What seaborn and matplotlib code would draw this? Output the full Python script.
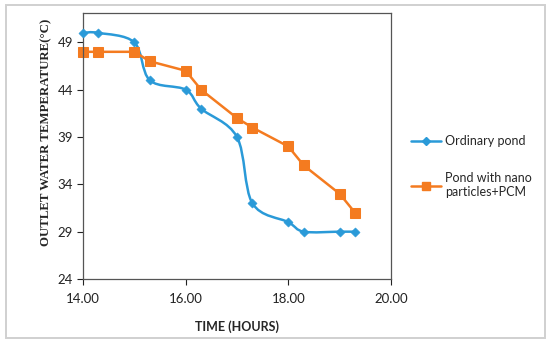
import matplotlib
matplotlib.use("Agg")
import matplotlib.pyplot as plt
import numpy as np
import pandas as pd
import seaborn as sns
from matplotlib.lines import Line2D
from matplotlib.patches import PathPatch, Rectangle
from matplotlib.path import Path

# ── Data ───────────────────────────────────────────────────────────────────
time_h = [14.0, 14.3, 15.0, 15.3, 16.0, 16.3, 17.0, 17.3, 18.0, 18.3, 19.0, 19.3]
ordinary_pond = [50, 50, 49, 45, 44, 42, 39, 32, 30, 29, 29, 29]
nano_pcm_pond = [48, 48, 48, 47, 46, 44, 41, 40, 38, 36, 33, 31]
series_names = ["Ordinary pond", "Pond with nano\nparticles+PCM"]
x_ticks = [14, 16, 18, 20]
y_ticks = [24, 29, 34, 39, 44, 49]

BLUE = "#2a9ad8"
ORANGE = "#f47b20"

sns.set_style("white")
plt.rcParams["font.family"] = ["Lato", "DejaVu Sans"]


def smooth_path(xs, ys):
    """Excel-style smoothed line: Catmull-Rom segments as cubic Beziers."""
    pts = np.column_stack([xs, ys]).astype(float)
    verts, codes = [pts[0]], [Path.MOVETO]
    for i in range(len(pts) - 1):
        p0 = pts[max(i - 1, 0)]
        p1, p2 = pts[i], pts[i + 1]
        p3 = pts[min(i + 2, len(pts) - 1)]
        verts += [p1 + (p2 - p0) / 6, p2 - (p3 - p1) / 6, p2]
        codes += [Path.CURVE4] * 3
    return Path(verts, codes)


df = pd.DataFrame({"time": time_h, "ordinary": ordinary_pond, "nano": nano_pcm_pond})

fig = plt.figure(figsize=(5.5, 3.43), dpi=100)
ax = fig.add_axes([83 / 550, 1 - 279 / 343, 308 / 550, 266 / 343])

# orange: straight segments
sns.lineplot(data=df, x="time", y="nano", ax=ax, color=ORANGE, linewidth=1.8,
             marker="s", markersize=7, markeredgecolor=ORANGE, clip_on=False)
# blue: smoothed curve + diamond markers
ax.add_patch(PathPatch(smooth_path(df["time"], df["ordinary"]), facecolor="none",
                       edgecolor=BLUE, linewidth=1.8, clip_on=False))
sns.scatterplot(data=df, x="time", y="ordinary", ax=ax, color=BLUE, marker="D",
                s=22, edgecolor=BLUE, zorder=3, clip_on=False)

ax.set_xlim(14, 20)
ax.set_ylim(24, 52.1)
ax.set_xticks(x_ticks)
ax.set_xticklabels([f"{t:.2f}" for t in x_ticks])
ax.set_yticks(y_ticks)
ax.tick_params(axis="both", labelsize=9.5, colors="#222222", direction="out",
               length=4, width=0.8, left=True, bottom=True, pad=3)
ax.tick_params(axis="x", pad=6)
for sp in ax.spines.values():
    sp.set_color("#555555")
    sp.set_linewidth(0.9)

ax.set_xlabel("TIME (HOURS)", fontsize=9, fontweight="bold")
ax.xaxis.set_label_coords(0.5, -0.155)
ax.set_ylabel("OUTLET WATER TEMPERATURE(\u00b0C)", fontsize=9.3, fontweight="bold",
              family=["Liberation Serif", "DejaVu Serif"])
ax.yaxis.set_label_coords(-0.1, 0.55)

handles = [
    Line2D([], [], color=BLUE, marker="D", markersize=4, linewidth=1.8),
    Line2D([], [], color=ORANGE, marker="s", markersize=6, linewidth=1.8),
]
fig.legend(handles, series_names, loc="upper left", bbox_to_anchor=(400 / 550, 1 - 124 / 343),
           frameon=False, fontsize=9, handlelength=2.4, handletextpad=0.3,
           labelspacing=2.0)

# outer chart-area border
fig.patches.append(Rectangle((6 / 550, 5 / 343), 539 / 550, 333 / 343,
                             transform=fig.transFigure, fill=False,
                             edgecolor="#d0d0d0", linewidth=1.4))

fig.savefig("out.png", dpi=100)
